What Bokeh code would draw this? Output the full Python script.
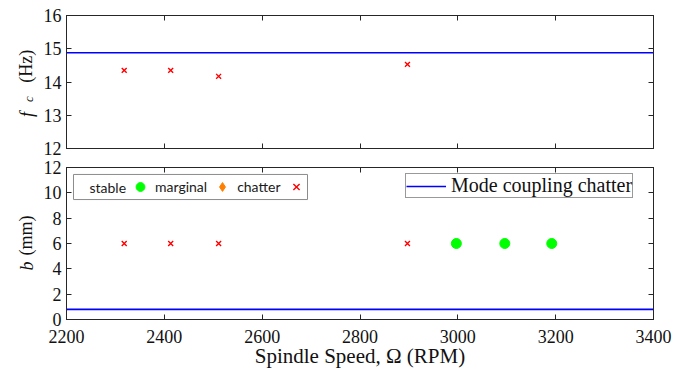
from math import pi
from bokeh.plotting import figure
from bokeh.layouts import column, row
from bokeh.models import (Range1d, LinearAxis, Legend, LegendItem, FixedTicker,
                          BoxAnnotation, Label)
from bokeh.core.properties import value
from bokeh.embed import file_html
from bokeh.resources import INLINE

# ---- data ----
speed_chatter = [2318, 2413, 2511, 2897]
fc_chatter = [14.35, 14.35, 14.17, 14.53]
b_chatter = [6, 6, 6, 6]
speed_marginal = [2997, 3096, 3192]
b_marginal = [6, 6, 6]
mode_speed = [2200, 3400]
mode_fc = [14.88, 14.88]
mode_b = [0.8, 0.8]
x_ticks = [2200, 2400, 2600, 2800, 3000, 3200, 3400]
fc_ticks = [12, 13, 14, 15, 16]
b_ticks = [0, 2, 4, 6, 8, 10, 12]
nan = float("nan")

SERIF = "Liberation Serif"
AX = "#262626"
TXT = "#111111"
TICK_FS = "18px"


def blank(ticks):
    return {t: "" for t in ticks}


def style(p, xticks, yticks, xlabels):
    p.outline_line_color = AX
    p.grid.visible = False
    for ax in p.xaxis + p.yaxis:
        ax.axis_line_color = AX
        ax.major_tick_line_color = AX
        ax.minor_tick_line_color = None
        ax.major_tick_in = 5
        ax.major_tick_out = 0
        ax.major_label_text_font = SERIF
        ax.major_label_text_font_size = TICK_FS
        ax.major_label_text_color = TXT
    p.xaxis.ticker = FixedTicker(ticks=xticks)
    p.yaxis.ticker = FixedTicker(ticks=yticks)
    p.yaxis.major_label_standoff = 5
    p.xaxis.major_label_standoff = 10
    if not xlabels:
        p.xaxis.major_label_overrides = blank(xticks)
        p.xaxis.major_label_standoff = 0
    for loc, t in (("above", xticks), ("right", yticks)):
        a = LinearAxis(ticker=FixedTicker(ticks=t), major_label_overrides=blank(t),
                       major_label_standoff=0, axis_line_color=AX, major_tick_line_color=AX,
                       minor_tick_line_color=None, major_tick_in=5, major_tick_out=0)
        p.add_layout(a, loc)


def label_fig(y_range, fh, top, bottom):
    f = figure(frame_width=40, frame_height=fh, x_range=Range1d(0, 40), y_range=y_range,
               x_axis_type=None, y_axis_type=None, output_backend="svg",
               toolbar_location=None, min_border=0, min_border_top=top,
               min_border_bottom=bottom, outline_line_color=None)
    f.grid.visible = False
    return f


def vtext(f, x, y, text, italic=False, size="18px"):
    f.text(x=[x], y=[y], text=[text], angle=pi / 2, text_font=value(SERIF),
           text_font_style="italic" if italic else "normal",
           text_font_size=value(size), text_baseline="middle", text_align="left",
           text_color=TXT)


# ---- top panel ----
p1 = figure(frame_width=587, frame_height=133, x_range=Range1d(2200, 3400),
            y_range=Range1d(12, 16), output_backend="svg", toolbar_location=None,
            min_border_left=26, min_border_right=35, min_border_top=15, min_border_bottom=10)
style(p1, x_ticks, fc_ticks, False)
p1.line(mode_speed, mode_fc, line_color="#0000FF", line_width=1.6)
p1.scatter(speed_chatter, fc_chatter, marker="x", size=7, line_color="#FF0000", line_width=1.4)

lab1 = label_fig(p1.y_range, 133, 15, 10)
vtext(lab1, 26, 12.95, "f", italic=True)
vtext(lab1, 28, 13.40, "c", italic=True, size="13px")
vtext(lab1, 25, 13.98, "(Hz)")

# ---- bottom panel ----
p2 = figure(frame_width=587, frame_height=152, x_range=Range1d(2200, 3400),
            y_range=Range1d(0, 12), output_backend="svg", toolbar_location=None,
            min_border_left=26, min_border_right=35, min_border_top=9, min_border_bottom=59)
style(p2, x_ticks, b_ticks, True)
bx = p2.below[0]
bx.axis_label = "Spindle Speed, \u03a9 (RPM)"
bx.axis_label_text_font = SERIF
bx.axis_label_text_font_style = "normal"
bx.axis_label_text_font_size = "21px"
bx.axis_label_text_color = TXT
bx.axis_label_standoff = -2

r_mode = p2.line(mode_speed, mode_b, line_color="#0000FF", line_width=1.6)
r_marg = p2.scatter(speed_marginal, b_marginal, marker="circle", size=10,
                    fill_color="#00FF00", line_color="#00FF00")
r_chat = p2.scatter(speed_chatter, b_chatter, marker="x", size=7, line_color="#FF0000",
                    line_width=1.4)
# legend-only renderer (no visible data)
r_diam = p2.scatter(x=[nan], y=[nan], marker="diamond", size=12, fill_color="#FF8000",
                    line_color="#FF8000")

lab2 = label_fig(p2.y_range, 152, 9, 59)
vtext(lab2, 26, 3.87, "b", italic=True)
vtext(lab2, 25, 5.05, "(mm)")

# legend 1: box + "stable" text + borderless legend (labels precede their symbols)
p2.add_layout(BoxAnnotation(left=2214.3, right=2692.7, bottom=9.47, top=11.45,
                            fill_color="white", fill_alpha=1, line_color="#8c8c8c",
                            line_width=1, line_alpha=1))
p2.add_layout(Label(x=2247, y=10.46, text="stable", text_font="Lato", text_font_size="14px",
                    text_baseline="middle", text_align="left", text_color="#1a1a1a"))
leg1 = Legend(items=[LegendItem(label="marginal", renderers=[r_marg]),
                     LegendItem(label="chatter", renderers=[r_diam]),
                     LegendItem(label="", renderers=[r_chat])],
              orientation="horizontal", location=(63, 120), padding=0,
              glyph_width=22, glyph_height=25, label_standoff=4, spacing=4,
              label_text_font="Lato", label_text_font_size="14px", label_text_color="#1a1a1a",
              border_line_color=None, background_fill_alpha=0)
leg2 = Legend(items=[LegendItem(label="Mode coupling chatter", renderers=[r_mode])],
              location=(339, 121), padding=0, glyph_width=40, glyph_height=14,
              label_standoff=5, label_text_font=SERIF, label_text_font_size="20px",
              label_text_color=TXT,
              border_line_color="#333333", background_fill_color="white", background_fill_alpha=1)
p2.add_layout(leg1)
p2.add_layout(leg2)

layout = column(row(lab1, p1, spacing=0), row(lab2, p2, spacing=0), spacing=0)
open("out.html", "w").write(file_html(layout, INLINE))
